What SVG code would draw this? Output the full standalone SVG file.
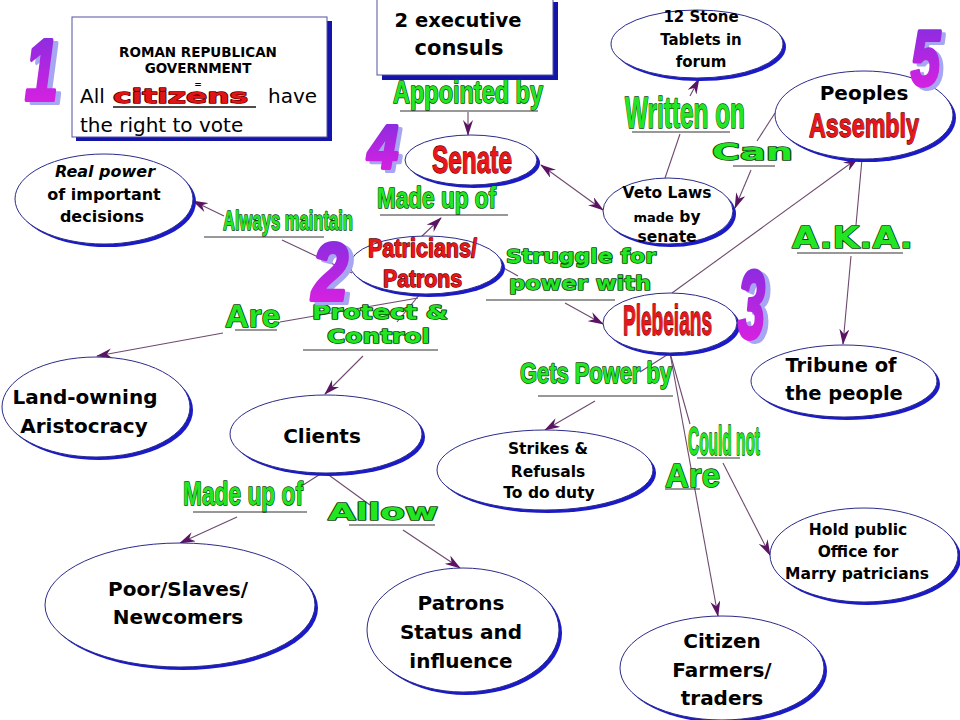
<svg xmlns="http://www.w3.org/2000/svg" width="960" height="720" viewBox="0 0 960 720">
<defs>
<style>
.g{font-family:"Liberation Sans",Arial,sans-serif;font-weight:bold;fill:#22e622;stroke:#0b450b;stroke-width:1.6;paint-order:stroke;stroke-linejoin:round}
.gw{font-family:"DejaVu Sans",sans-serif;font-weight:bold;fill:#22e622;stroke:#0b450b;stroke-width:1.6;paint-order:stroke;stroke-linejoin:round}
.r{font-family:"Liberation Sans",Arial,sans-serif;font-weight:bold;fill:#e8161b;stroke:#5a0000;stroke-width:1.3;paint-order:stroke;stroke-linejoin:round}
.rw{font-family:"DejaVu Sans",sans-serif;font-weight:bold;fill:#e01414;stroke:#4a0000;stroke-width:1.3;paint-order:stroke;stroke-linejoin:round}
.t{font-family:"DejaVu Sans",sans-serif;font-weight:bold;fill:#000;text-anchor:middle}
.tn{font-family:"DejaVu Sans",sans-serif;font-weight:normal;fill:#000}
.ul{stroke:#333;stroke-width:1.2}
.cn{stroke:#6e4a6e;stroke-width:1.1;fill:none}
.ar{marker-end:url(#arr)}
.sh{fill:#1a1ac8}
.el{fill:#fff;stroke:#2b2b8c;stroke-width:1}
.num{font-family:"Liberation Sans",Arial,sans-serif;font-weight:bold;font-style:italic;fill:url(#numg);stroke:url(#numg);stroke-width:4;stroke-linejoin:round}
.nsh{font-family:"Liberation Sans",Arial,sans-serif;font-weight:bold;font-style:italic;fill:#a6a6f2;stroke:#a6a6f2;stroke-width:4;stroke-linejoin:round}
</style>
<marker id="arr" markerUnits="userSpaceOnUse" markerWidth="16" markerHeight="10" viewBox="0 0 16 10" refX="15" refY="5" orient="auto-start-reverse">
<path d="M0,0 L16,5 L0,10 L5,5 Z" fill="#5a1462"/>
</marker>
<linearGradient id="numg" x1="0" y1="0" x2="0" y2="1">
<stop offset="0" stop-color="#7b2fe0"/>
<stop offset="1" stop-color="#e81ee0"/>
</linearGradient>
</defs>
<rect width="960" height="720" fill="#fff"/>

<g id="connectors">
<line class="cn ar" x1="468" y1="112" x2="468" y2="135"/>
<line class="cn ar" x1="420" y1="238" x2="441" y2="218"/>
<line class="cn" x1="541" y1="165" x2="603" y2="210" marker-start="url(#arr)" marker-end="url(#arr)"/>
<line class="cn" x1="665" y1="178" x2="680" y2="134"/>
<line class="cn ar" x1="690" y1="96" x2="699" y2="79"/>
<line class="cn" x1="775" y1="113" x2="757" y2="141"/>
<line class="cn ar" x1="751" y1="170" x2="735" y2="208"/>
<line class="cn ar" x1="672" y1="293" x2="858" y2="158"/>
<line class="cn" x1="862" y1="159" x2="856" y2="225"/>
<line class="cn ar" x1="851" y1="256" x2="843" y2="344"/>
<line class="cn" x1="352" y1="273" x2="282" y2="240"/>
<line class="cn ar" x1="224" y1="216" x2="193" y2="201"/>
<line class="cn" x1="500" y1="266" x2="518" y2="276"/>
<line class="cn ar" x1="565" y1="303" x2="603" y2="324"/>
<line class="cn" x1="418" y1="298" x2="280" y2="322"/>
<line class="cn ar" x1="223" y1="333" x2="97" y2="356"/>
<line class="cn" x1="420" y1="294" x2="397" y2="322"/>
<line class="cn ar" x1="363" y1="356" x2="325" y2="394"/>
<line class="cn" x1="322" y1="473" x2="300" y2="487"/>
<line class="cn ar" x1="237" y1="517" x2="180" y2="543"/>
<line class="cn" x1="326" y1="473" x2="370" y2="505"/>
<line class="cn ar" x1="403" y1="530" x2="460" y2="568"/>
<line class="cn" x1="670" y1="353" x2="640" y2="372"/>
<line class="cn ar" x1="595" y1="401" x2="545" y2="430"/>
<line class="cn" x1="670" y1="353" x2="690" y2="424"/>
<line class="cn ar" x1="723" y1="463" x2="770" y2="555"/>
<line class="cn ar" x1="670" y1="353" x2="718" y2="616"/>
</g>

<g id="box-government">
<rect x="76" y="21" width="256" height="120" fill="#1414a8"/>
<rect x="72" y="17" width="255" height="120" fill="#fff" stroke="#5050a0" stroke-width="1"/>
<text class="t" x="198" y="57" font-size="13.5">ROMAN REPUBLICAN</text>
<text class="t" x="198" y="73" font-size="13.5">GOVERNMENT</text>
<text class="t" x="198" y="87" font-size="9" fill="#555">=</text>
<text class="tn" x="80" y="103" font-size="20">All</text>
<text class="rw" x="113" y="103" font-size="19" textLength="135" lengthAdjust="spacingAndGlyphs">citizens</text>
<line x1="113" y1="107" x2="256" y2="107" stroke="#111" stroke-width="1.5"/>
<text class="tn" x="268" y="103" font-size="20">have</text>
<text class="tn" x="80" y="132" font-size="20">the right to vote</text>
</g>

<g id="box-consuls">
<rect x="382" y="2" width="176" height="78" fill="#1414a8"/>
<rect x="377" y="-3" width="176" height="78" fill="#fff" stroke="#5050a0" stroke-width="1"/>
<text class="t" x="458" y="27" font-size="19.5">2 executive</text>
<text class="t" x="459" y="55" font-size="21">consuls</text>
</g>

<g id="node-stone">
<ellipse class="sh" cx="700" cy="47" rx="86" ry="34"/>
<ellipse class="el" cx="697" cy="44" rx="86" ry="34"/>
<text class="t" x="701" y="22" font-size="15">12 Stone</text>
<text class="t" x="701" y="45" font-size="15">Tablets in</text>
<text class="t" x="701" y="67" font-size="15">forum</text>
</g>

<g id="node-assembly">
<ellipse class="sh" cx="867" cy="118" rx="89" ry="44"/>
<ellipse class="el" cx="864" cy="115" rx="89" ry="44"/>
<text class="t" x="864" y="100" font-size="20">Peoples</text>
<text class="r" x="809" y="137" font-size="34" textLength="110" lengthAdjust="spacingAndGlyphs">Assembly</text>
</g>

<g id="node-senate">
<ellipse class="sh" cx="474" cy="163" rx="66" ry="25"/>
<ellipse class="el" cx="471" cy="160" rx="66" ry="25"/>
<text class="r" x="432" y="173" font-size="39" textLength="80" lengthAdjust="spacingAndGlyphs">Senate</text>
</g>

<g id="node-veto">
<ellipse class="sh" cx="671" cy="214" rx="65" ry="33"/>
<ellipse class="el" cx="668" cy="211" rx="65" ry="33"/>
<text class="t" x="667" y="198" font-size="15.5">Veto Laws</text>
<text class="t" x="667" y="222" font-size="15.5"><tspan font-size="13">made</tspan> by</text>
<text class="t" x="667" y="242" font-size="15.5">senate</text>
</g>

<g id="node-realpower">
<ellipse class="sh" cx="107" cy="202" rx="89" ry="45"/>
<ellipse class="el" cx="104" cy="199" rx="89" ry="45"/>
<text class="t" x="105" y="177" font-size="16" font-style="italic">Real power</text>
<text class="t" x="104" y="200" font-size="16">of important</text>
<text class="t" x="102" y="222" font-size="16">decisions</text>
</g>

<g id="node-patricians">
<ellipse class="sh" cx="429" cy="268" rx="76" ry="29"/>
<ellipse class="el" cx="426" cy="265" rx="76" ry="29"/>
<text class="r" x="368" y="257" font-size="25" textLength="109" lengthAdjust="spacingAndGlyphs">Patricians/</text>
<text class="r" x="383" y="287" font-size="23" textLength="79" lengthAdjust="spacingAndGlyphs">Patrons</text>
</g>

<g id="node-plebeians">
<ellipse class="sh" cx="673" cy="326" rx="67" ry="30"/>
<ellipse class="el" cx="670" cy="323" rx="67" ry="30"/>
<text class="r" x="623" y="335" font-size="42" textLength="89" lengthAdjust="spacingAndGlyphs">Plebeians</text>
</g>

<g id="node-tribune">
<ellipse class="sh" cx="847" cy="384" rx="93" ry="36"/>
<ellipse class="el" cx="844" cy="381" rx="93" ry="36"/>
<text class="t" x="841" y="372" font-size="19.5">Tribune of</text>
<text class="t" x="844" y="400" font-size="19.5">the people</text>
</g>

<g id="node-landowning">
<ellipse class="sh" cx="99" cy="410" rx="94" ry="50"/>
<ellipse class="el" cx="96" cy="407" rx="94" ry="50"/>
<text class="t" x="85" y="404" font-size="20">Land-owning</text>
<text class="t" x="84" y="433" font-size="20">Aristocracy</text>
</g>

<g id="node-clients">
<ellipse class="sh" cx="329" cy="437" rx="96" ry="39"/>
<ellipse class="el" cx="326" cy="434" rx="96" ry="39"/>
<text class="t" x="322" y="443" font-size="20">Clients</text>
</g>

<g id="node-strikes">
<ellipse class="sh" cx="548" cy="473" rx="108" ry="40"/>
<ellipse class="el" cx="545" cy="470" rx="108" ry="40"/>
<text class="t" x="548" y="454" font-size="15.5">Strikes &amp;</text>
<text class="t" x="548" y="477" font-size="15.5">Refusals</text>
<text class="t" x="549" y="498" font-size="15.5">To do duty</text>
</g>

<g id="node-hold">
<ellipse class="sh" cx="867" cy="558" rx="94" ry="47"/>
<ellipse class="el" cx="864" cy="555" rx="94" ry="47"/>
<text class="t" x="858" y="535" font-size="15.5">Hold public</text>
<text class="t" x="858" y="557" font-size="15.5">Office for</text>
<text class="t" x="857" y="579" font-size="15.5">Marry patricians</text>
</g>

<g id="node-poor">
<ellipse class="sh" cx="183" cy="608" rx="135" ry="62"/>
<ellipse class="el" cx="180" cy="605" rx="135" ry="62"/>
<text class="t" x="178" y="596" font-size="20">Poor/Slaves/</text>
<text class="t" x="178" y="624" font-size="20">Newcomers</text>
</g>

<g id="node-patrons">
<ellipse class="sh" cx="466" cy="633" rx="96" ry="62"/>
<ellipse class="el" cx="463" cy="630" rx="96" ry="62"/>
<text class="t" x="461" y="610" font-size="20">Patrons</text>
<text class="t" x="461" y="639" font-size="20">Status and</text>
<text class="t" x="461" y="668" font-size="20">influence</text>
</g>

<g id="node-citizen">
<ellipse class="sh" cx="725" cy="671" rx="102" ry="52"/>
<ellipse class="el" cx="722" cy="668" rx="102" ry="52"/>
<text class="t" x="722" y="648" font-size="20">Citizen</text>
<text class="t" x="722" y="677" font-size="20">Farmers/</text>
<text class="t" x="722" y="705" font-size="20">traders</text>
</g>

<g id="label-appointed">
<text class="g" x="393" y="103" font-size="31" textLength="150" lengthAdjust="spacingAndGlyphs">Appointed by</text>
<line class="ul" x1="400" y1="111" x2="538" y2="111"/>
</g>
<g id="label-madeup1">
<text class="g" x="377" y="208" font-size="29" textLength="119" lengthAdjust="spacingAndGlyphs">Made up of</text>
<line class="ul" x1="380" y1="215" x2="508" y2="215"/>
</g>
<g id="label-always">
<text class="g" x="223" y="230" font-size="28" textLength="130" lengthAdjust="spacingAndGlyphs">Always maintain</text>
<line class="ul" x1="204" y1="237" x2="324" y2="237"/>
</g>
<g id="label-written">
<text class="g" x="625" y="128" font-size="44" textLength="120" lengthAdjust="spacingAndGlyphs">Written on</text>
<line class="ul" x1="632" y1="132" x2="730" y2="132"/>
</g>
<g id="label-can">
<text class="gw" x="712" y="160" font-size="23" textLength="81" lengthAdjust="spacingAndGlyphs">Can</text>
<line class="ul" x1="733" y1="166" x2="775" y2="166"/>
</g>
<g id="label-aka">
<text class="gw" x="792" y="248" font-size="31" textLength="121" lengthAdjust="spacingAndGlyphs">A.K.A.</text>
<line class="ul" x1="797" y1="253" x2="903" y2="253"/>
</g>
<g id="label-struggle">
<text class="gw" x="506" y="263" font-size="19" textLength="150" lengthAdjust="spacingAndGlyphs">Struggle for</text>
<text class="gw" x="509" y="290" font-size="19" textLength="142" lengthAdjust="spacingAndGlyphs">power with</text>
<line class="ul" x1="486" y1="300" x2="615" y2="300"/>
</g>
<g id="label-are1">
<text class="g" x="225" y="327" font-size="31" textLength="55" lengthAdjust="spacingAndGlyphs">Are</text>
<line class="ul" x1="235" y1="330" x2="277" y2="330"/>
</g>
<g id="label-protect">
<text class="gw" x="312" y="319" font-size="19" textLength="136" lengthAdjust="spacingAndGlyphs">Protect &amp;</text>
<text class="gw" x="327" y="343" font-size="19" textLength="103" lengthAdjust="spacingAndGlyphs">Control</text>
<line class="ul" x1="303" y1="350" x2="438" y2="350"/>
</g>
<g id="label-madeup2">
<text class="g" x="183" y="505" font-size="34" textLength="120" lengthAdjust="spacingAndGlyphs">Made up of</text>
<line class="ul" x1="193" y1="512" x2="307" y2="512"/>
</g>
<g id="label-allow">
<text class="gw" x="328" y="520" font-size="23" textLength="110" lengthAdjust="spacingAndGlyphs">Allow</text>
<line class="ul" x1="349" y1="525" x2="435" y2="525"/>
</g>
<g id="label-getspower">
<text class="g" x="520" y="383" font-size="29" textLength="152" lengthAdjust="spacingAndGlyphs">Gets Power by</text>
<line class="ul" x1="538" y1="396" x2="673" y2="396"/>
</g>
<g id="label-couldnot">
<text class="g" x="688" y="455" font-size="41" textLength="72" lengthAdjust="spacingAndGlyphs">Could not</text>
<line class="ul" x1="697" y1="458" x2="740" y2="458"/>
</g>
<g id="label-are2">
<text class="g" x="665" y="487" font-size="33" textLength="55" lengthAdjust="spacingAndGlyphs">Are</text>
<line class="ul" x1="665" y1="489" x2="700" y2="489"/>
</g>

<g id="numbers">
<text class="nsh" x="30" y="103" font-size="88" textLength="33" lengthAdjust="spacingAndGlyphs">1</text>
<text class="num" x="25" y="100" font-size="88" textLength="33" lengthAdjust="spacingAndGlyphs">1</text>
<text class="nsh" x="317" y="303" font-size="82" textLength="36" lengthAdjust="spacingAndGlyphs">2</text>
<text class="num" x="312" y="300" font-size="82" textLength="36" lengthAdjust="spacingAndGlyphs">2</text>
<text class="nsh" x="743" y="341" font-size="96" textLength="27" lengthAdjust="spacingAndGlyphs">3</text>
<text class="num" x="738" y="338" font-size="96" textLength="27" lengthAdjust="spacingAndGlyphs">3</text>
<text class="nsh" x="372" y="171" font-size="62" textLength="30" lengthAdjust="spacingAndGlyphs">4</text>
<text class="num" x="368" y="168" font-size="62" textLength="30" lengthAdjust="spacingAndGlyphs">4</text>
<text class="nsh" x="915" y="88" font-size="78" textLength="29" lengthAdjust="spacingAndGlyphs">5</text>
<text class="num" x="911" y="85" font-size="78" textLength="29" lengthAdjust="spacingAndGlyphs">5</text>
</g>
</svg>
